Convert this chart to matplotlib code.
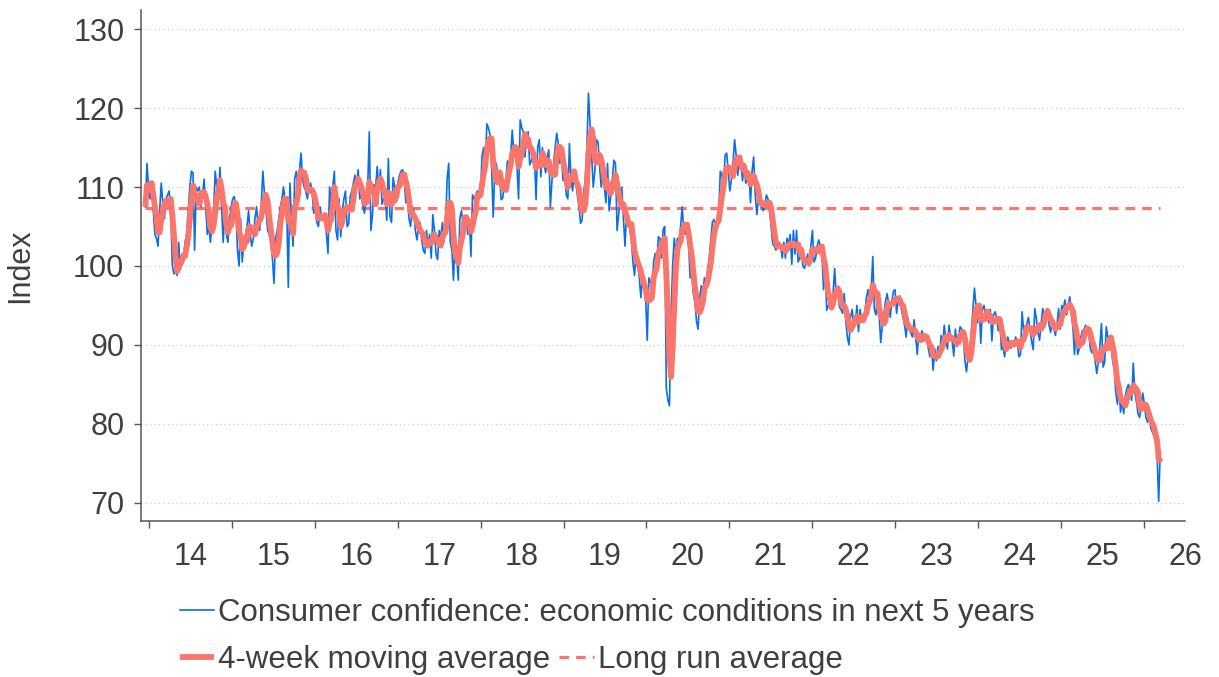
import matplotlib
matplotlib.use("Agg")
import matplotlib.pyplot as plt
import pandas as pd

# weekly index readings, first week mid-Dec 2013, one list per ~year
conf_2014 = [107.5, 113, 110, 108.5, 110.5, 107, 104, 103.5, 102.5, 107, 110.5, 108, 106, 108.5, 109, 109.5, 107, 100, 99, 99.5,
             98.8, 103, 99.5, 101.5, 101, 103, 104, 107, 110, 112, 111.8, 102, 110, 109.5, 110, 107.5, 109, 111, 107.5, 104,
             105, 103, 105.5, 107, 112, 110, 109, 112.5, 107.5, 103, 107, 104]
conf_2015 = [103, 106, 107.5, 108.5, 108.8, 107, 102, 100, 106, 100.5, 103, 104, 105, 107, 104, 102.5, 103.5, 106, 107.5, 105,
             104.5, 108, 112, 109, 107, 104.5, 104, 103, 101, 97.8, 103.5, 104.5, 106, 107.5, 108.5, 110, 108, 107.5, 97.3, 110.5,
             106, 102.5, 111, 112, 110, 112, 114.3, 111, 110, 109.5, 108.5, 110]
conf_2016 = [110.5, 109.5, 106.7, 107, 105.5, 105, 107.5, 106, 105.8, 106.5, 104, 101.6, 110, 108, 110, 112, 104.5, 103.3, 108.5, 103.7,
             107, 108.5, 109.5, 105, 105.3, 108.8, 109.5, 110.5, 111.5, 110, 112.2, 108.5, 109, 107.5, 106.7, 108.8, 110, 117, 104.5, 106.5,
             110.3, 110, 112.6, 109.5, 112.2, 107.8, 108.5, 109.3, 105.8, 113.6, 106.3, 105.5]
conf_2017 = [111.2, 110, 108.5, 110.5, 111.5, 112, 112.2, 110.8, 108, 108.5, 106, 105, 107.5, 107, 104.5, 103.3, 105, 105.5, 103.3, 102,
             101.6, 104.5, 102.3, 104, 101, 106.5, 104.5, 101.5, 100.8, 104.5, 103.5, 105.5, 103, 105, 111, 113, 103, 102, 98.2, 103.5,
             101.5, 98.2, 106, 107, 105.5, 106, 106.3, 104, 106, 101.2, 109, 108.5]
conf_2018 = [108.8, 109.5, 108.6, 109, 114, 115, 112.5, 118, 117.5, 116.6, 112.5, 106.2, 112, 113, 111, 111.5, 108.4, 108.6, 110.5, 111,
             113.3, 113, 113.8, 117.2, 114.3, 115, 112.5, 108.5, 118.5, 117.5, 117, 113.8, 116.5, 117, 112.8, 113.3, 114.5, 113.5, 108.4, 115,
             116, 111.3, 115, 113, 111.8, 113.8, 114.7, 107.5, 110.8, 113, 115, 116.8]
conf_2019 = [115.5, 113, 114, 110.8, 111.6, 109, 108.5, 115.5, 111, 109.5, 112, 110.8, 109, 107.5, 105.4, 105.8, 109.5, 110.8, 115, 121.9,
             118, 114.3, 110, 112, 116, 115.7, 112.6, 110, 111.8, 110, 108, 113, 107, 108.8, 111, 113.4, 113, 104.5, 106.5, 108.8,
             110, 106, 102.5, 107, 106.5, 104.5, 103.3, 100.5, 98.8, 102, 100.5, 98.5]
conf_2020 = [96, 99, 97.5, 95.8, 90.6, 98.5, 98, 97, 100.5, 101.6, 100, 103.7, 103.5, 101, 104.6, 105, 84.5, 83, 82.3, 94,
             100, 103.5, 101.5, 103.5, 102.5, 105, 107.5, 104.5, 104, 105, 103, 98.5, 99, 96.5, 95.5, 93, 92, 96, 97.5, 96.5,
             98.5, 97.5, 99.5, 101, 103.3, 105.5, 105.9, 105, 105.5, 106.5, 112, 111.5]
conf_2021 = [109.8, 114, 114.3, 112, 109.5, 111, 113, 116, 114, 111.5, 113.6, 113, 110.8, 113, 110.5, 110.8, 112, 108, 112, 113.8,
             109, 106.5, 108.5, 108.8, 107.5, 107, 107.5, 109, 108.5, 107, 105, 102.8, 102.5, 102, 102.5, 103, 102.5, 101, 103, 101,
             103.5, 102.8, 104, 100.2, 104.5, 101.5, 104.5, 100.5, 101, 102.3, 100, 99.7]
conf_2022 = [100.5, 101.5, 100, 102.5, 104.5, 100.5, 101, 102.5, 103.3, 102.5, 101.5, 97, 99.5, 94.4, 95, 95, 94.5, 96.5, 99.7, 96,
             96.5, 94.8, 94.5, 94, 96.5, 93, 91, 90, 93.5, 94.5, 92.5, 92.5, 95, 91.7, 94.5, 93, 93.3, 94, 96, 97,
             95, 97, 101.2, 94.5, 93.8, 96.5, 94, 90.3, 92.5, 94, 95.5, 96.5]
conf_2023 = [95.2, 93.5, 95.5, 96.8, 97, 94, 95.8, 96.2, 94.5, 93.5, 92.5, 91, 93.5, 92, 91.5, 91, 93.2, 91, 88.8, 91.5,
             91, 91.8, 90.5, 90.8, 91, 89.5, 88.5, 89.8, 86.8, 89.5, 88, 89.8, 88.5, 91.2, 90, 92.5, 90.5, 89.5, 92.5, 91,
             90.5, 88.6, 92, 89.8, 91, 92.3, 92, 91.2, 88, 86.6, 88.5, 89.3]
conf_2024 = [91.5, 94.4, 97.2, 95, 92.8, 95, 90.2, 94.5, 95, 93.5, 94, 92.8, 94.5, 90.5, 93.8, 94.2, 93.5, 91.8, 93.5, 89.4,
             89.8, 88.5, 90.2, 91, 90.2, 89.6, 90.2, 90.2, 91, 90.5, 88.5, 88.8, 94.2, 91.8, 90.5, 92.7, 93.5, 91.8, 90.5, 89.4,
             94.6, 93.3, 91.6, 90.6, 92.7, 94.6, 93.8, 94.2, 94.6, 92.5, 91.6, 93.3]
conf_2025 = [92, 91.2, 92.5, 94.6, 92, 95, 94.6, 95.7, 93.8, 95, 96.1, 94, 92.3, 88.8, 92.3, 88.8, 89.5, 91, 91.8, 92,
             92.5, 92, 91.5, 89.5, 89, 90, 88, 86.4, 87.8, 90, 92.7, 87.2, 87.8, 92.3, 91, 90.5, 90, 88, 87, 84,
             82.5, 84.8, 81.5, 83, 81.3, 83.5, 84.5, 85, 83.8, 83, 87.7, 84]
conf_2026 = [82.8, 81.3, 80.8, 82.5, 83.9, 82.5, 80.8, 80.2, 81.5, 79.5, 79, 78.5, 77.8, 76, 70.2, 76.5]

long_run_avg = 107.4
first_week = "2013-12-15"
years = list(range(2014, 2027))
year_labels = ["14", "15", "16", "17", "18", "19", "20", "21", "22", "23", "24", "25", "26"]

blue = "#0a6fe6"
salmon = "#fb756b"
txt = "#3f3f3f"

values = (conf_2014 + conf_2015 + conf_2016 + conf_2017 + conf_2018 + conf_2019 + conf_2020
          + conf_2021 + conf_2022 + conf_2023 + conf_2024 + conf_2025 + conf_2026)
s = pd.Series(values, index=pd.date_range(first_week, periods=len(values), freq="W-SUN"))
ma = s.rolling(4, min_periods=1).mean()

plt.rcParams["font.family"] = ["Liberation Sans", "DejaVu Sans"]

fig = plt.figure(figsize=(12.19, 6.77), dpi=100)
ax = fig.add_axes([0.1157, 0.2304, 0.8564, 0.7546])

l1, = ax.plot(s.index, s.values, color=blue, lw=1.2, zorder=3,
              label="Consumer confidence: economic conditions in next 5 years")
l2, = ax.plot(ma.index, ma.values, color=salmon, lw=4.2, zorder=4, solid_capstyle="butt",
              solid_joinstyle="round", label="4-week moving average")
l3, = ax.plot([s.index[0], s.index[-1]], [long_run_avg, long_run_avg], color=salmon, lw=2.3,
              dashes=(3.0, 2.2), zorder=2, label="Long run average")

ax.set_ylim(67.7, 132.4)
ax.set_yticks([70, 80, 90, 100, 110, 120, 130])
ax.set_xlim(pd.Timestamp("2013-11-26"), pd.Timestamp("2026-06-25"))
ax.set_xticks([pd.Timestamp(f"{y}-01-01") for y in years])
ax.set_xticklabels([])
ax.set_xticks([pd.Timestamp(f"{y}-07-02") for y in years], minor=True)
ax.set_xticklabels(year_labels, minor=True)

ax.grid(axis="y", color="#c8cdd0", ls=(0, (1, 2.5)), lw=0.9)
ax.set_axisbelow(True)
for side in ["top", "right"]:
    ax.spines[side].set_visible(False)
for side in ["left", "bottom"]:
    ax.spines[side].set_color("#555555")
    ax.spines[side].set_linewidth(1.1)

ax.tick_params(axis="y", which="major", length=5, width=1, color="#555555", labelsize=22, labelcolor=txt, pad=7)
ax.tick_params(axis="x", which="major", length=5, width=1, color="#555555")
ax.tick_params(axis="x", which="minor", length=0, labelsize=22, labelcolor=txt, pad=15)

ax.set_ylabel("Index", fontsize=22, color=txt)
ax.yaxis.set_label_coords(-0.101, 0.5)

leg1 = fig.legend(handles=[l1], loc="center left", bbox_to_anchor=(0.1477, 0.0945), frameon=False,
                  fontsize=22.5, handlelength=1.1, handletextpad=0.13, borderpad=0, borderaxespad=0)
for t in leg1.get_texts():
    t.set_color(txt)
leg2 = fig.legend(handles=[l2, l3], loc="center left", bbox_to_anchor=(0.1477, 0.025), frameon=False, ncol=2,
                  fontsize=22.5, handlelength=1.1, handletextpad=0.13, columnspacing=0.27, borderpad=0, borderaxespad=0)
for t in leg2.get_texts():
    t.set_color(txt)

fig.savefig("out.png", dpi=100)
